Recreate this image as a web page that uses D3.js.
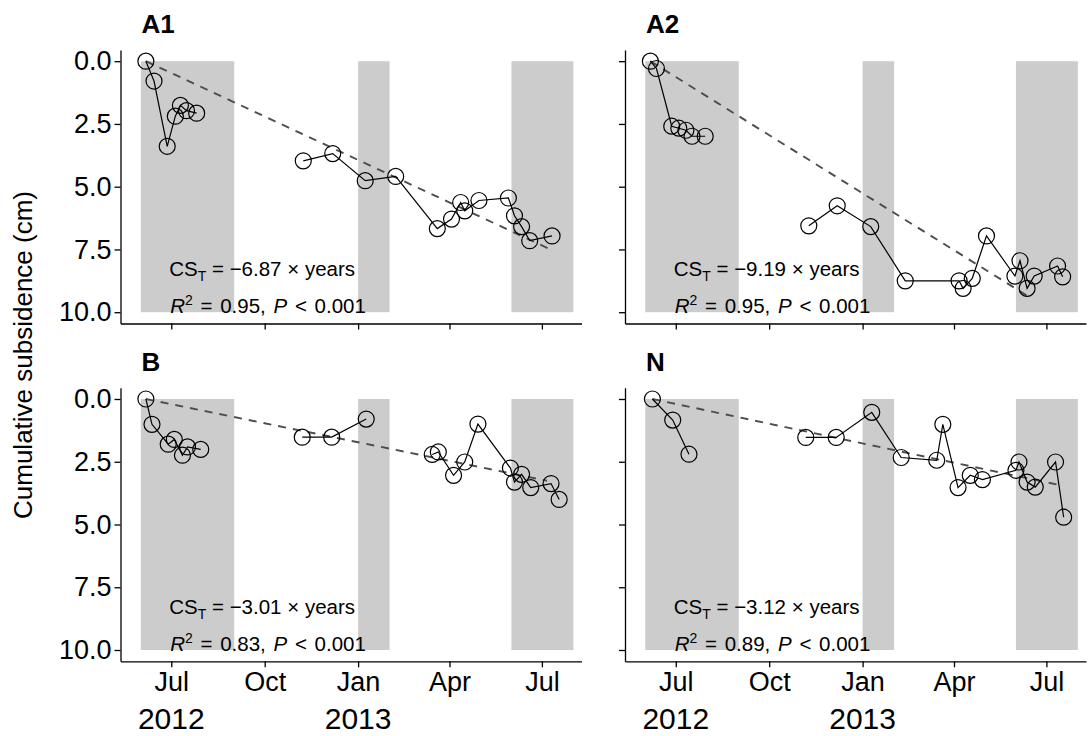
<!DOCTYPE html>
<html>
<head>
<meta charset="utf-8">
<script src="https://cdn.jsdelivr.net/npm/d3@7"></script>
<style>
  body { margin: 0; background: #fff; }
  svg { display: block; }
  text { font-family: "Liberation Sans", Arial, Helvetica, sans-serif; fill: #000; }
</style>
</head>
<body>
<svg id="chart" width="1091" height="736"></svg>
<script>
// ---- data ---------------------------------------------------------------
const panelIds = ["A1", "A2", "B", "N"];

const a1Dates = ["2012-06-06","2012-06-14","2012-06-27","2012-07-05","2012-07-10","2012-07-16","2012-07-26",
  "2012-11-08","2012-12-07","2013-01-08","2013-02-07","2013-03-20","2013-04-03","2013-04-12","2013-04-16",
  "2013-04-30","2013-05-29","2013-06-04","2013-06-11","2013-06-19","2013-07-11"];
const a1Values = [0, 0.79, 3.39, 2.19, 1.76, 1.97, 2.07,
  3.97, 3.68, 4.76, 4.59, 6.67, 6.29, 5.63, 5.96,
  5.55, 5.45, 6.16, 6.59, 7.15, 6.96];

const a2Dates = ["2012-06-06","2012-06-12","2012-06-27","2012-07-04","2012-07-11","2012-07-17","2012-07-30",
  "2012-11-09","2012-12-07","2013-01-09","2013-02-12","2013-04-06","2013-04-10","2013-04-19","2013-05-03",
  "2013-05-31","2013-06-05","2013-06-12","2013-06-19","2013-07-12","2013-07-17"];
const a2Values = [0, 0.29, 2.59, 2.67, 2.75, 2.99, 2.99,
  6.56, 5.76, 6.59, 8.75, 8.75, 9.05, 8.65, 6.96,
  8.56, 7.95, 9.05, 8.56, 8.16, 8.59];

const bDates = ["2012-06-06","2012-06-12","2012-06-28","2012-07-04","2012-07-12","2012-07-17","2012-07-30",
  "2012-11-07","2012-12-06","2013-01-09","2013-03-15","2013-03-21","2013-04-05","2013-04-16","2013-04-29",
  "2013-05-31","2013-06-04","2013-06-11","2013-06-20","2013-07-10","2013-07-18"];
const bValues = [0, 1.01, 1.80, 1.61, 2.24, 1.91, 2.01,
  1.52, 1.52, 0.80, 2.21, 2.11, 3.04, 2.51, 1.00,
  2.75, 3.31, 3.00, 3.53, 3.37, 4.00];

const nDates = ["2012-06-08","2012-06-28","2012-07-14",
  "2012-11-06","2012-12-06","2013-01-10","2013-02-08","2013-03-15","2013-03-21","2013-04-05","2013-04-17",
  "2013-04-29","2013-06-01","2013-06-04","2013-06-12","2013-06-20","2013-07-10","2013-07-18"];
const nValues = [0, 0.84, 2.20,
  1.53, 1.53, 0.53, 2.33, 2.44, 1.01, 3.53, 3.04,
  3.21, 2.84, 2.51, 3.31, 3.51, 2.51, 4.71];

// linear trends: CS_T = slope x years
const slopes = [-6.87, -9.19, -3.01, -3.12];
const r2Values = [0.95, 0.95, 0.83, 0.89];
const fitStart = ["2012-06-06", "2012-06-06", "2012-06-06", "2012-06-08"];
const fitEnd = ["2013-07-08", "2013-06-12", "2013-07-06", "2013-07-12"];

// shaded periods
const shadedPeriods = [["2012-06-01", "2012-09-01"], ["2013-01-01", "2013-02-01"], ["2013-06-01", "2013-08-01"]];

const yTicks = [0, 2.5, 5, 7.5, 10];
const xTicks = ["2012-07-01", "2012-10-01", "2013-01-01", "2013-04-01", "2013-07-01"];
const yearLabels = [["2012-07-01", "2012"], ["2013-01-01", "2013"]];

// surveys further apart than this are not joined by a line
const maxGapDays = 60;

// ---- layout ---------------------------------------------------------------
const parse = d3.utcParse("%Y-%m-%d");
const DAY = 24 * 3600 * 1000;
const svg = d3.select("#chart");

const panelSeries = [[a1Dates, a1Values], [a2Dates, a2Values], [bDates, bValues], [nDates, nValues]];
const colLeft = [120.5, 625];
const colWidth = 461;
const rowY0 = [61.2, 399];      // pixel of 0 cm
const unit = 25.1;              // pixels per cm
const xDomain = [parse("2012-05-12"), parse("2013-08-09")];
const annDate = parse("2012-06-29");

function splitRuns(pts) {
  const runs = [];
  pts.forEach((p, k) => {
    if (k === 0 || (p.date - pts[k - 1].date) / DAY > maxGapDays) runs.push([]);
    runs[runs.length - 1].push(p);
  });
  return runs;
}

panelIds.forEach((id, i) => {
  const col = i % 2, row = Math.floor(i / 2);
  const x = d3.scaleUtc().domain(xDomain).range([colLeft[col], colLeft[col] + colWidth]);
  const y = d3.scaleLinear().domain([-0.45, 10.45])
    .range([rowY0[row] - 0.45 * unit, rowY0[row] + 10.45 * unit]);
  const g = svg.append("g");

  // shaded periods
  g.selectAll("rect.band").data(shadedPeriods).join("rect")
    .attr("class", "band")
    .attr("x", d => x(parse(d[0])))
    .attr("width", d => x(parse(d[1])) - x(parse(d[0])))
    .attr("y", y(0))
    .attr("height", y(10) - y(0))
    .attr("fill", "#cccccc");

  // annotation
  const slope = slopes[i];
  const ax = x(annDate);
  const t1 = g.append("text").attr("x", ax).attr("y", y(10) - 36.5).attr("font-size", 20.5);
  t1.append("tspan").text("CS");
  t1.append("tspan").attr("font-size", 14).attr("dy", 5).text("T");
  t1.append("tspan").attr("dy", -5).text(" = \u2212" + Math.abs(slope).toFixed(2) + " \u00d7 years");

  const t2 = g.append("text").attr("x", ax + 1).attr("y", y(10) + 1).attr("font-size", 20.5)
    .attr("word-spacing", 2);
  t2.append("tspan").attr("font-style", "italic").text("R");
  t2.append("tspan").attr("font-size", 14).attr("dy", -8).text("2");
  t2.append("tspan").attr("dy", 8).text(" = " + r2Values[i].toFixed(2) + ", ");
  t2.append("tspan").attr("font-style", "italic").text("P");
  t2.append("tspan").text(" < 0.001");

  // trend line
  const s0 = parse(fitStart[i]), s1 = parse(fitEnd[i]);
  const yrs = (s1 - s0) / (365 * DAY);
  const trend = [[s0, 0], [s1, -slope * yrs]];
  g.append("path")
    .attr("d", d3.line().x(d => x(d[0])).y(d => y(d[1]))(trend))
    .attr("fill", "none").attr("stroke", "#4d4d4d")
    .attr("stroke-width", 1.9).attr("stroke-dasharray", "8,7");

  // observations
  const [dts, vals] = panelSeries[i];
  const pts = dts.map((d, k) => ({ date: parse(d), v: vals[k] }));
  const line = d3.line().x(d => x(d.date)).y(d => y(d.v));
  g.selectAll("path.obs").data(splitRuns(pts)).join("path")
    .attr("class", "obs")
    .attr("d", line)
    .attr("fill", "none").attr("stroke", "#000").attr("stroke-width", 1.2);
  g.selectAll("circle").data(pts).join("circle")
    .attr("cx", d => x(d.date)).attr("cy", d => y(d.v)).attr("r", 8)
    .attr("fill", "none").attr("stroke", "#000").attr("stroke-width", 1.2);

  // axes
  const yAxis = d3.axisLeft(y).tickValues(yTicks).tickSize(6).tickSizeOuter(0)
    .tickFormat(col === 0 ? d3.format(".1f") : () => "");
  const ya = g.append("g").attr("transform", `translate(${colLeft[col]},0)`).call(yAxis);
  const xAxis = d3.axisBottom(x).tickValues(xTicks.map(parse)).tickSize(6).tickSizeOuter(0)
    .tickFormat(row === 1 ? d3.utcFormat("%b") : () => "");
  const xa = g.append("g").attr("transform", `translate(0,${y.range()[1]})`).call(xAxis);
  [ya, xa].forEach(a => {
    a.select(".domain").attr("stroke", "#000").attr("stroke-width", 1.3);
    a.selectAll(".tick line").attr("stroke", "#000").attr("stroke-width", 1.3);
    a.selectAll(".tick text").attr("font-size", 27).attr("fill", "#000")
      .attr("font-family", "\"Liberation Sans\", Arial, sans-serif");
  });
  ya.selectAll(".tick text").attr("x", -9);
  xa.selectAll(".tick text").attr("y", 11);

  if (row === 1) {
    g.selectAll("text.year").data(yearLabels).join("text")
      .attr("class", "year")
      .attr("x", d => x(parse(d[0]))).attr("y", 729)
      .attr("text-anchor", "middle").attr("font-size", 30)
      .text(d => d[1]);
  }

  // panel title
  g.append("text").attr("x", colLeft[col] + 21).attr("y", rowY0[row] - 28)
    .attr("font-size", 26).attr("font-weight", "bold").text(id);
});

// shared y-axis title
svg.append("text")
  .attr("transform", "translate(32,355) rotate(-90)")
  .attr("text-anchor", "middle").attr("font-size", 26)
  .text("Cumulative subsidence (cm)");
</script>
</body>
</html>
